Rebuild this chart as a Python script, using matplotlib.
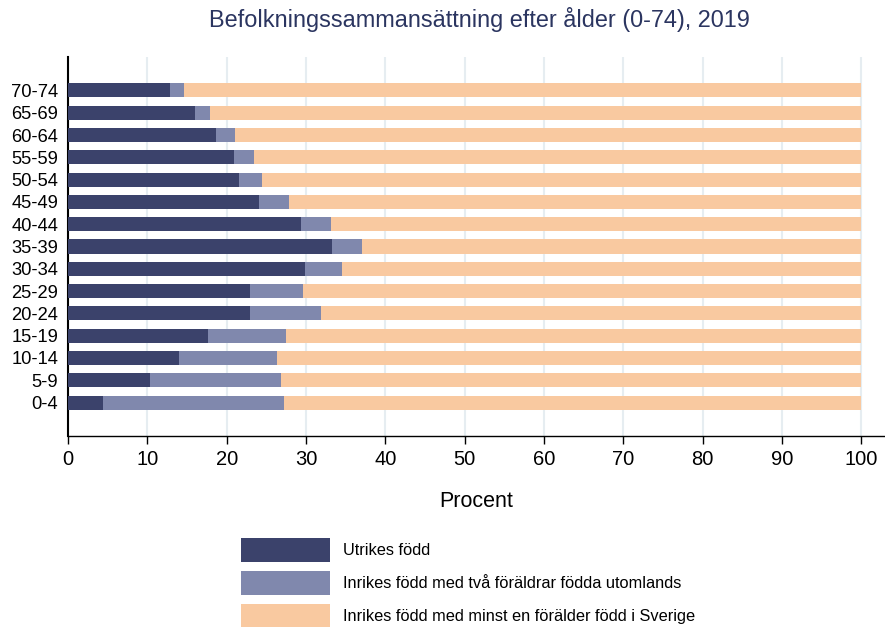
import matplotlib
matplotlib.use("Agg")
import matplotlib.pyplot as plt
import numpy as np

plt.rcParams['font.family'] = ['Liberation Sans', 'DejaVu Sans']

ages = ['0-4', '5-9', '10-14', '15-19', '20-24', '25-29', '30-34', '35-39',
        '40-44', '45-49', '50-54', '55-59', '60-64', '65-69', '70-74']
utrikes = [4.4, 10.4, 14.0, 17.6, 23.0, 22.9, 29.9, 33.3,
           29.4, 24.1, 21.5, 20.9, 18.6, 16.0, 12.9]
tva_utl = [22.8, 16.4, 12.3, 9.9, 8.9, 6.7, 4.6, 3.8,
           3.7, 3.7, 3.0, 2.6, 2.4, 1.9, 1.7]
sverige = [100 - a - b for a, b in zip(utrikes, tva_utl)]

labels = ['Utrikes född',
          'Inrikes född med två föräldrar födda utomlands',
          'Inrikes född med minst en förälder född i Sverige']
colors = ['#3b426b', '#8088ad', '#f9c9a0']

fig = plt.figure(figsize=(8.85, 6.27), dpi=100)
ax = fig.add_axes([68 / 885, 1 - 436 / 627, 1 - 68 / 885, (436 - 57) / 627])

y = np.arange(len(ages))
h = 0.63
left = np.zeros(len(ages))
for vals, c, lab in zip([utrikes, tva_utl, sverige], colors, labels):
    ax.barh(y, vals, h, left=left, color=c, label=lab, zorder=3)
    left += np.array(vals)

ax.set_xlim(0, 103)
ax.set_ylim(-1.5, 15.5)
ax.set_xticks(range(0, 101, 10))
ax.set_yticks(y)
ax.set_yticklabels(ages, fontsize=13.2)
ax.tick_params(axis='y', length=0, pad=7)
ax.tick_params(axis='x', length=6, width=1, labelsize=14.5, pad=4)
ax.grid(axis='x', color='#e6edf1', linewidth=1.5, zorder=0)

for s in ['top', 'right']:
    ax.spines[s].set_visible(False)
ax.spines['left'].set_linewidth(1.5)
ax.spines['bottom'].set_linewidth(1.0)

ax.set_xlabel('Procent', fontsize=15.5, labelpad=16)
fig.text(479 / 885, 1 - 20 / 627, 'Befolkningssammansättning efter ålder (0-74), 2019',
         ha='center', va='center', fontsize=16.9, color='#2b3560')

fig.legend(loc='upper left', bbox_to_anchor=(241 / 885, 1 - 538 / 627),
           frameon=False, fontsize=11.8, handlelength=5.4, handleheight=1.874,
           labelspacing=0.55, handletextpad=0.85, borderpad=0, borderaxespad=0)

fig.savefig('out.png', dpi=100)
